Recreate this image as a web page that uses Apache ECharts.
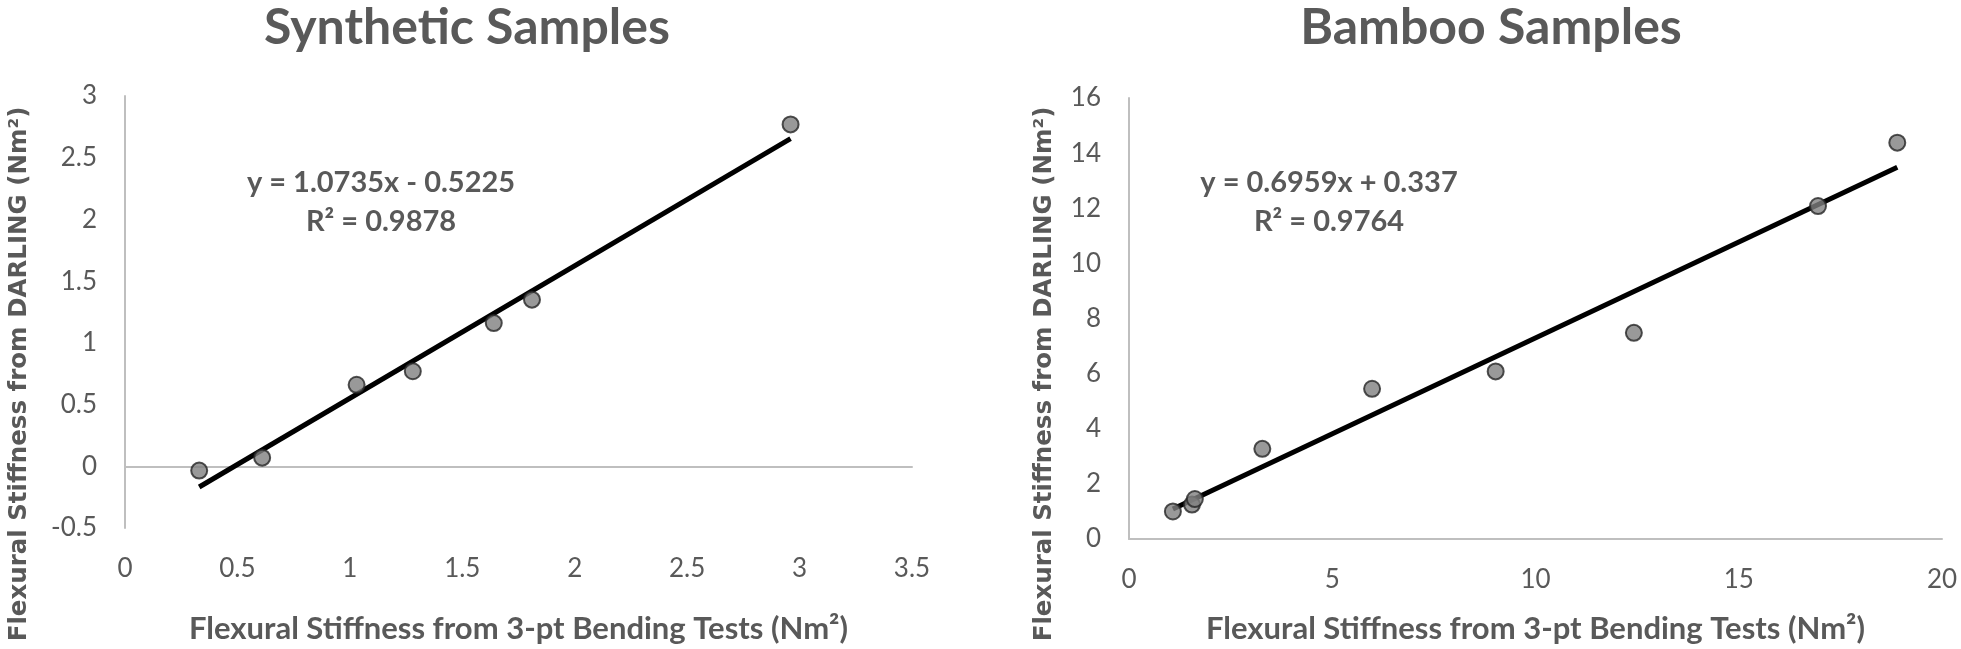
<!DOCTYPE html>
<html>
<head>
<meta charset="utf-8">
<script src="https://cdn.jsdelivr.net/npm/echarts@6/dist/echarts.min.js"></script>
<style>
html,body{margin:0;padding:0;background:#fff;}
#c{width:1961px;height:649px;}
</style>
</head>
<body>
<div id="c"></div>
<script>
// ---- Data ----
const synthTitle = 'Synthetic Samples';
const bambooTitle = 'Bamboo Samples';
const xName = 'Flexural Stiffness from 3-pt Bending Tests (Nm²)';
const yName = 'Flexural Stiffness from DARLING (Nm²)';

const synthPoints = [
  [0.33, -0.035], [0.61, 0.07], [1.03, 0.66], [1.28, 0.77],
  [1.64, 1.16], [1.81, 1.35], [2.96, 2.77]
];
const synthTrend = [[0.33, -0.168], [2.96, 2.655]];
const synthEq = ['y = 1.0735x - 0.5225', 'R² = 0.9878'];

const bambooPoints = [
  [1.08, 1.0], [1.55, 1.25], [1.62, 1.45], [3.28, 3.27],
  [5.98, 5.45], [9.02, 6.08], [12.42, 7.48], [16.95, 12.08], [18.9, 14.38]
];
const bambooTrend = [[1.08, 1.09], [18.9, 13.49]];
const bambooEq = ['y = 0.6959x + 0.337', 'R² = 0.9764'];

const synthX = {min: 0, max: 3.5, interval: 0.5};
const synthY = {min: -0.5, max: 3, interval: 0.5};
const bambooX = {min: 0, max: 20, interval: 5};
const bambooY = {min: 0, max: 16, interval: 2};

// ---- Styles ----
const TXT = '#595959';
const LBL_FONT = "'Liberation Sans Narrow', Lato, 'Noto Sans', sans-serif";
const YNAME_FONT = "'DejaVu Sans', Verdana, sans-serif";

function xAxis(idx, s, gap) {
  return {
    type: 'value', gridIndex: idx, min: s.min, max: s.max, interval: s.interval,
    axisLine: {show: true, onZero: true, lineStyle: {color: '#bfbfbf', width: 2}},
    axisTick: {show: false}, splitLine: {show: false},
    axisLabel: {color: TXT, fontSize: 26, fontFamily: LBL_FONT, margin: 28},
    name: xName, nameLocation: 'middle', nameGap: gap,
    nameTextStyle: {color: TXT, fontSize: 31, fontWeight: 'bold', fontFamily: LBL_FONT}
  };
}
function yAxis(idx, s) {
  return {
    type: 'value', gridIndex: idx, min: s.min, max: s.max, interval: s.interval,
    axisLine: {show: true, onZero: false, lineStyle: {color: '#bfbfbf', width: 2}},
    axisTick: {show: false}, splitLine: {show: false},
    axisLabel: {color: TXT, fontSize: 26, fontFamily: LBL_FONT, margin: 28}
  };
}
function yTitle(x, y) {
  return {
    type: 'text', x: x, y: y, rotation: Math.PI / 2,
    style: {text: yName, fill: TXT, font: "bold 24.5px " + YNAME_FONT,
            textAlign: 'center', textVerticalAlign: 'middle'}
  };
}
const markerStyle = {color: '#808080', borderColor: '#262626', borderWidth: 2};
const trendStyle = {color: '#000', width: 5};

const chart = echarts.init(document.getElementById('c'), null, {renderer: 'canvas'});
chart.setOption({
  backgroundColor: '#fff',
  animation: false,
  title: [
    {text: synthTitle, left: 462, top: -2, textAlign: 'center',
     textStyle: {color: TXT, fontSize: 50, fontWeight: 'bold', fontFamily: LBL_FONT}},
    {text: bambooTitle, left: 1486, top: -2, textAlign: 'center',
     textStyle: {color: TXT, fontSize: 50, fontWeight: 'bold', fontFamily: LBL_FONT}},
    {text: synthEq[0] + '\n' + synthEq[1], left: 376, top: 158, textAlign: 'center',
     textStyle: {color: TXT, fontSize: 29, fontWeight: 'bold', fontFamily: LBL_FONT, lineHeight: 39}},
    {text: bambooEq[0] + '\n' + bambooEq[1], left: 1324, top: 158, textAlign: 'center',
     textStyle: {color: TXT, fontSize: 29, fontWeight: 'bold', fontFamily: LBL_FONT, lineHeight: 39}}
  ],
  graphic: [yTitle(20, 374), yTitle(1045, 374)],
  grid: [
    {left: 125, top: 96, width: 787, height: 504},
    {left: 1129, top: 98, width: 813, height: 441}
  ],
  xAxis: [xAxis(0, synthX, 85), xAxis(1, bambooX, 74)],
  yAxis: [yAxis(0, synthY), yAxis(1, bambooY)],
  series: [
    {type: 'line', xAxisIndex: 0, yAxisIndex: 0, data: synthTrend, showSymbol: false,
     lineStyle: trendStyle, z: 2},
    {type: 'scatter', xAxisIndex: 0, yAxisIndex: 0, data: synthPoints, symbolSize: 16,
     itemStyle: markerStyle, z: 3},
    {type: 'line', xAxisIndex: 1, yAxisIndex: 1, data: bambooTrend, showSymbol: false,
     lineStyle: trendStyle, z: 2},
    {type: 'scatter', xAxisIndex: 1, yAxisIndex: 1, data: bambooPoints, symbolSize: 16,
     itemStyle: markerStyle, z: 3}
  ]
});
</script>
</body>
</html>
